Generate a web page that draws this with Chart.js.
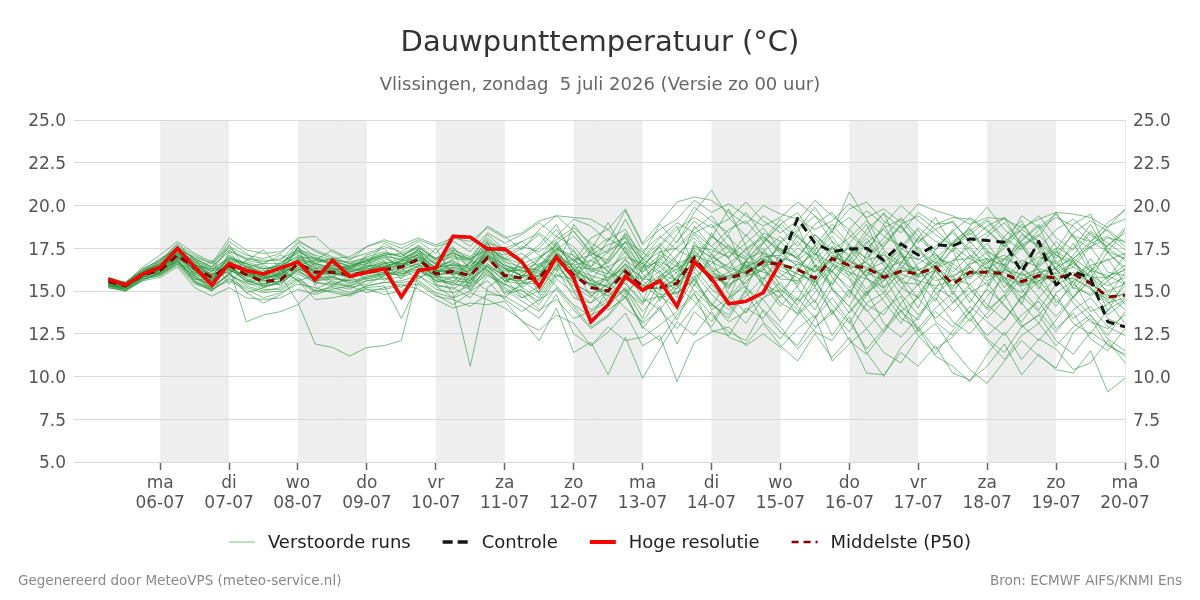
<!DOCTYPE html>
<html><head><meta charset="utf-8">
<script src="https://cdn.jsdelivr.net/npm/chart.js@4"></script>
<style>html,body{margin:0;padding:0;background:#fff}#wrap{width:1200px;height:600px}</style>
</head><body><div id="wrap"><canvas id="c" width="1200" height="600"></canvas></div>
<script>
// ---- DATA ----
const hours = [-18,-12,-6,0,6,12,18,24,30,36,42,48,54,60,66,72,78,84,90,96,102,108,114,120,126,132,138,144,150,156,162,168,174,180,186,192,198,204,210,216,222,228,234,240,246,252,258,264,270,276,282,288,294,300,306,312,318,324,330,336];
const tickHours = [0,24,48,72,96,120,144,168,192,216,240,264,288,312,336];
const dayNames = ['ma','di','wo','do','vr','za','zo','ma','di','wo','do','vr','za','zo','ma'];
const dayDates = ['06-07','07-07','08-07','09-07','10-07','11-07','12-07','13-07','14-07','15-07','16-07','17-07','18-07','19-07','20-07'];
const shadedDays = [0,48,96,144,192,240,288];
const yTicks = [5,7.5,10,12.5,15,17.5,20,22.5,25];

const hiRes = [15.7,15.35,16.0,16.4,17.5,16.4,15.35,16.6,16.2,16.0,
16.35,16.7,15.65,16.8,15.85,16.1,16.3,14.65,16.2,16.35,
18.2,18.15,17.45,17.45,16.7,15.25,17.0,15.75,13.2,14.2,
15.85,15.05,15.6,14.1,16.7,15.75,14.25,14.4,14.9,16.7];

const control = [15.7,15.35,16.0,16.4,17.5,16.4,15.35,16.6,16.2,16.0,
16.35,16.7,15.65,16.8,15.85,16.1,16.3,14.65,16.2,16.35,
18.2,18.15,17.45,17.45,16.7,15.25,17.0,15.75,13.2,14.2,
15.85,15.05,15.6,14.1,16.7,15.75,14.25,14.4,14.9,16.7,
19.25,17.8,17.3,17.45,17.5,16.8,17.75,17.1,17.7,17.65,
18.05,17.95,17.85,16.1,17.9,15.35,16.15,15.75,13.2,12.9];

const median = [15.55,15.3,15.95,16.2,17.1,16.35,15.8,16.5,15.95,15.55,
15.65,16.6,16.1,16.1,15.95,16.1,16.25,16.4,16.85,16.0,
16.15,15.9,16.95,15.9,15.75,15.75,16.95,15.95,15.2,15.0,
16.15,15.25,15.2,15.45,16.95,15.65,15.75,16.05,16.7,16.55,
16.25,15.75,16.9,16.5,16.35,15.8,16.15,16.0,16.4,15.4,
16.1,16.1,16.0,15.55,15.9,15.75,16.0,15.45,14.65,14.75];

const members = [
[15.4,15.2,15.9,16.5,17.3,16.1,15.6,16.8,16.0,15.4, 15.8,16.9,16.3,15.8,15.6,16.4,16.7,16.1,17.2,16.3, 16.8,15.9,17.6,16.4,15.2,15.9,17.8,16.3,14.7,15.4, 16.6,14.9,15.8,14.6,17.9,16.3,15.2,16.7,17.5,16.0, 15.4,16.8,17.9,16.1,14.9,15.6,17.2,15.3,16.7,14.8, 16.5,17.3,15.6,14.2,16.8,17.5,15.1,16.2,13.8,15.6],
[15.6,15.3,16.1,16.0,16.9,16.5,16.2,16.3,15.6,15.9, 15.3,16.4,15.8,16.5,16.2,15.7,15.9,16.6,16.4,15.6, 15.5,16.7,16.2,15.3,16.9,14.8,16.1,17.4,15.8,14.3, 15.9,16.8,14.4,15.9,16.2,18.4,16.9,15.1,17.3,18.2, 17.1,15.3,16.4,18.6,17.4,15.2,16.6,18.1,17.2,15.9, 14.3,16.1,17.8,16.6,15.1,17.2,18.3,16.4,15.7,17.1],
[15.3,15.1,15.7,15.9,16.6,15.9,15.2,16.0,15.3,15.0, 15.2,16.0,15.5,15.3,15.1,15.6,15.8,15.2,15.9,15.1, 14.9,15.3,16.3,14.8,15.1,14.2,15.7,14.9,13.6,14.1, 15.2,13.8,14.9,13.3,15.4,14.2,13.6,15.1,14.5,13.2, 14.6,13.4,15.2,14.1,12.8,13.9,14.7,12.6,13.8,12.9, 14.1,13.2,12.4,13.6,14.4,12.8,13.7,12.2,11.5,12.8],
[15.8,15.5,16.3,16.8,17.7,17.1,16.6,17.5,16.9,16.7, 16.9,17.4,17.1,16.8,16.4,16.9,17.2,17.0,17.6,16.8, 17.4,17.0,18.1,17.2,16.8,17.5,18.6,17.3,16.1,16.7, 17.9,16.2,17.1,16.4,18.8,17.6,16.9,18.3,17.1,16.5, 18.3,17.2,16.1,17.8,18.9,16.7,17.4,18.6,16.9,17.8, 18.7,17.1,16.3,17.9,18.8,16.6,17.5,18.9,17.2,16.4],
[15.2,15.0,15.6,16.1,16.9,15.6,15.0,15.8,14.9,15.2, 15.6,16.3,15.9,16.2,16.5,16.8,17.1,16.3,15.7,16.5, 15.9,15.4,16.6,15.8,14.6,15.3,16.4,15.5,14.8,13.9, 14.6,13.1,13.9,15.2,16.1,14.8,13.9,14.7,15.8,14.3, 13.7,15.6,14.2,13.1,14.8,15.9,14.1,13.3,15.2,14.6, 13.2,14.7,15.8,14.3,13.1,14.9,15.6,13.8,14.2,15.3],
[15.5,15.4,16.0,16.3,17.6,16.9,16.4,17.9,17.2,16.5, 16.1,17.6,16.4,15.5,15.2,15.4,15.9,16.8,17.3,16.9, 17.6,16.2,17.3,16.9,17.5,18.3,17.2,16.1,17.3,18.1, 17.4,15.6,16.8,17.9,19.1,18.2,17.4,16.3,17.8,18.9, 19.6,18.1,16.9,17.5,16.2,17.6,18.8,17.3,16.4,17.9, 18.6,17.4,16.5,18.3,17.6,16.2,17.1,18.4,17.5,16.8],
[15.4,15.3,15.8,16.4,17.0,16.6,15.9,16.4,13.2,13.6, 13.8,14.2,15.1,15.6,15.3,15.8,16.1,15.9,16.3,15.4, 15.1,15.8,15.0,14.6,15.5,16.2,15.3,14.2,13.5,15.1, 16.3,14.6,13.9,12.8,14.1,15.4,14.2,13.1,14.6,15.5, 14.1,12.9,13.7,15.1,13.9,12.6,14.3,15.4,13.2,12.4, 13.8,15.1,14.2,12.9,13.6,14.8,13.1,12.5,13.9,14.5],
[15.6,15.4,16.2,16.6,17.2,16.2,15.5,16.2,15.8,15.7, 15.9,14.3,11.9,11.7,11.2,11.7,11.8,12.1,16.1,15.8, 16.4,16.1,17.2,16.3,15.9,16.8,17.9,16.2,15.6,16.9, 18.2,16.5,15.3,16.1,17.4,16.2,15.1,16.8,17.9,16.6, 15.5,17.1,18.2,16.9,15.8,14.9,16.3,17.6,16.1,15.2, 16.7,17.8,16.4,15.3,16.6,17.9,16.8,15.4,14.7,16.1],
[15.3,15.2,15.8,16.2,17.4,16.4,15.7,16.9,16.4,16.1, 16.6,17.3,16.8,17.4,16.9,17.2,17.6,17.3,17.9,17.2, 18.3,17.6,18.8,18.2,17.4,18.6,19.4,18.5,17.2,16.8, 18.4,17.1,18.9,17.8,19.6,20.9,19.3,18.2,19.4,18.7, 17.6,18.9,19.6,18.3,17.4,18.7,19.2,17.9,18.6,19.1, 17.8,18.4,19.3,17.6,18.2,19.6,18.1,17.5,18.8,19.2],
[15.7,15.4,16.0,16.1,16.8,16.0,16.8,15.4,16.5,15.2, 16.2,15.6,15.9,16.4,15.8,16.2,16.6,15.7,16.9,16.2, 14.8,10.6,15.2,15.9,16.7,15.4,16.8,15.1,14.3,15.6, 16.9,15.3,16.2,14.8,15.9,13.9,14.6,15.8,16.4,15.1, 14.2,15.8,13.6,14.9,16.3,15.1,13.8,14.6,15.9,14.3, 15.2,13.9,14.7,16.1,15.3,14.1,15.6,16.4,14.8,13.9],
[15.5,15.2,16.1,16.7,17.8,16.8,15.9,17.1,16.5,15.8, 16.4,17.8,17.0,16.6,16.2,17.1,17.5,16.4,17.0,16.6, 17.1,16.4,17.8,16.6,15.8,16.9,18.2,17.6,16.4,17.3, 19.2,17.3,16.4,17.6,18.6,19.4,18.1,17.2,16.4,17.8, 18.6,19.9,18.4,20.8,19.2,17.4,16.6,18.1,19.3,17.6, 16.9,18.2,19.0,17.8,16.5,17.4,18.9,19.5,17.3,16.2],
[15.4,15.1,15.8,16.0,16.7,15.7,15.4,16.3,15.6,15.3, 15.5,16.1,15.7,15.9,15.4,15.9,16.0,16.2,16.6,15.5, 15.8,15.2,16.0,15.1,14.4,13.8,15.2,14.1,12.9,13.6, 14.9,12.8,14.1,11.9,13.8,12.9,14.6,15.3,13.8,12.6, 11.8,13.4,14.6,13.2,11.6,12.8,13.9,12.4,11.3,12.7, 13.8,12.2,11.4,12.9,13.6,12.1,11.3,12.6,11.9,11.2],
[15.6,15.3,16.0,16.5,17.3,16.7,16.1,16.8,16.3,16.2, 16.0,16.9,16.6,16.3,16.1,16.5,16.8,14.6,16.3,16.1, 16.6,16.3,17.1,16.0,15.6,14.9,16.5,16.6,15.2,15.7, 16.5,15.8,16.6,15.6,17.2,16.1,16.6,17.4,18.1,17.3, 16.4,15.2,17.6,16.4,15.1,16.2,17.3,15.9,17.1,16.4, 15.7,16.9,15.8,14.6,15.9,16.8,15.4,14.7,15.6,16.3],
[15.3,15.0,15.7,15.9,16.5,15.4,15.1,15.6,15.1,14.6, 14.9,15.4,15.2,14.9,14.7,15.2,15.3,13.4,15.5,14.8, 14.2,14.9,14.5,14.0,13.3,12.1,14.0,11.4,12.0,10.1, 12.3,9.9,11.6,13.2,12.4,13.8,12.3,11.9,13.1,11.8, 10.9,12.5,11.1,12.3,10.2,10.1,11.4,10.6,11.8,10.2, 9.8,10.6,11.9,10.1,11.3,10.4,10.2,11.5,9.1,9.9],
[15.7,15.5,16.4,17.1,17.9,17.2,16.7,17.6,17.1,16.9, 17.2,18.1,18.2,17.3,16.8,17.6,17.9,17.5,18.0,17.6, 17.9,17.3,18.4,17.8,18.3,19.0,18.2,19.2,18.8,17.9, 19.7,17.7,18.6,19.2,20.3,19.6,20.1,19.4,18.8,19.3, 20.2,19.4,18.6,19.8,20.2,19.1,18.4,19.6,18.9,19.3, 19.2,18.5,17.6,19.4,18.7,19.5,18.2,17.9,19.0,19.7],
[15.5,15.3,15.9,16.3,17.1,16.2,15.3,16.7,16.7,16.4, 15.7,16.5,16.2,16.0,15.9,16.3,16.4,16.8,16.7,16.2, 16.2,15.6,16.8,16.1,16.3,16.6,16.9,16.2,15.7,15.2, 16.2,15.1,15.7,16.3,16.9,15.6,16.1,16.5,16.1,15.8, 16.6,16.2,16.8,16.3,16.7,15.7,16.1,16.4,15.6,15.9, 16.4,15.6,16.2,16.0,15.4,16.1,16.6,15.9,15.3,15.8],
[15.4,15.3,16.0,16.3,16.9,16.4,15.6,16.2,15.9,15.6, 15.7,16.7,16.1,16.2,15.8,16.0,16.3,16.5,17.0,16.0, 16.0,16.0,17.0,15.7,15.6,15.9,17.1,15.9,15.4,14.9, 16.0,15.3,15.1,15.4,16.8,15.5,15.9,16.1,16.8,16.6, 16.3,15.8,17.0,16.7,16.4,15.9,16.2,16.0,16.5,15.3, 16.0,16.2,16.1,15.4,15.8,15.7,16.1,15.5,14.6,14.8],
[15.6,15.4,16.2,16.9,17.5,15.8,15.1,17.3,16.1,15.5, 15.9,17.6,15.3,16.8,16.7,16.9,15.6,16.4,17.5,15.3, 14.6,15.6,17.5,17.3,17.9,17.1,16.2,18.9,17.6,16.4, 15.4,14.3,17.3,16.6,15.3,17.2,18.3,15.9,16.2,17.9, 18.8,16.4,15.3,17.1,18.3,19.6,17.2,15.8,17.4,18.6, 17.1,15.9,18.2,19.1,17.4,16.3,17.8,16.1,17.7,18.4],
[15.2,15.1,15.6,15.8,16.4,15.2,14.7,15.2,14.6,14.5, 14.6,15.1,14.8,15.1,15.3,14.9,15.2,15.4,15.1,14.5, 14.0,14.3,14.2,14.4,13.2,12.7,13.6,13.1,11.8,12.6, 13.7,11.8,12.4,9.7,12.0,12.6,12.9,11.8,12.5,11.7, 12.8,13.6,10.9,11.9,12.8,11.4,10.8,12.3,13.1,11.6, 10.4,9.6,10.9,12.1,11.2,10.5,12.6,13.4,11.8,11.3],
[15.5,15.2,16.0,16.4,17.2,16.3,16.0,16.1,16.4,16.6, 17.1,16.6,15.6,15.8,16.4,16.6,17.8,17.2,16.5,17.5, 15.9,16.7,17.9,15.5,16.1,16.4,17.5,15.6,17.4,19.0, 17.2,16.3,17.7,18.8,16.4,18.1,19.8,17.6,15.4,14.9, 16.1,17.7,15.8,14.6,17.2,18.9,17.1,15.6,14.4,16.6, 17.9,16.8,15.2,16.5,17.8,16.3,14.6,15.7,17.3,16.9],
[15.4,15.2,15.9,16.2,17.0,16.6,15.7,16.6,16.2,16.0, 16.3,16.2,16.6,16.4,16.1,16.3,16.5,16.6,16.8,16.4, 16.5,16.5,17.3,16.7,16.4,15.8,16.4,16.9,15.5,14.7, 15.5,14.4,14.7,14.0,15.8,16.6,17.3,16.9,17.3,16.2, 15.8,14.3,16.5,15.7,14.2,13.6,15.1,16.3,14.9,13.8, 14.9,15.5,14.1,13.2,14.6,15.8,14.3,13.2,12.8,13.6],
[15.6,15.3,16.1,16.6,17.4,16.6,15.8,16.7,16.1,15.7, 16.0,16.9,16.5,16.2,16.0,16.1,16.4,16.7,17.1,16.1, 16.3,15.8,17.0,16.2,16.2,16.0,17.2,16.4,16.3,16.4, 17.0,16.6,16.0,15.6,17.6,17.4,17.0,17.8,18.7,17.4, 16.9,18.3,17.4,18.1,19.1,18.2,17.6,18.7,17.9,17.3, 18.8,19.9,18.6,17.7,18.3,17.1,16.6,17.8,18.2,17.4],
[15.3,15.1,15.8,16.0,16.7,15.9,15.3,15.9,15.5,15.1, 15.1,15.8,15.0,15.2,14.9,15.3,15.5,15.6,15.9,15.3, 15.2,14.6,15.9,15.4,14.8,13.9,14.5,13.4,13.8,14.4, 15.0,15.6,14.8,14.9,15.6,14.3,13.2,13.8,14.6,15.1, 14.4,15.2,13.8,12.6,14.3,14.9,13.4,12.8,14.0,14.9, 13.6,12.4,13.3,14.7,13.8,12.6,13.9,14.6,13.4,12.9],
[15.5,15.4,16.1,16.4,17.2,16.5,16.3,16.9,16.6,16.3, 16.5,17.0,16.9,16.7,16.5,16.7,17.0,16.9,17.4,16.7, 17.0,16.9,17.4,17.1,17.6,17.3,18.0,18.7,17.8,17.2, 18.3,16.8,17.6,18.6,19.3,18.7,19.2,20.2,19.1,18.4, 19.1,20.3,19.4,18.6,19.7,18.9,20.0,19.1,18.3,17.6, 18.3,19.1,17.9,18.6,19.4,18.1,17.4,18.5,17.8,17.1],
[15.6,15.2,15.9,16.2,16.8,15.5,15.2,16.0,16.8,17.4, 16.3,15.6,14.9,15.3,15.9,15.1,14.8,15.0,15.8,16.1, 17.4,15.0,16.5,14.9,15.3,16.6,15.8,16.6,17.6,15.5, 14.6,16.4,17.6,15.3,14.4,13.2,14.6,16.8,15.3,14.6, 16.3,17.4,15.1,14.1,15.9,17.3,15.6,14.0,16.2,17.4, 15.1,14.0,16.3,17.6,16.2,14.3,15.3,16.9,15.6,14.2],
[15.4,15.3,16.0,16.6,17.6,16.9,16.4,17.3,16.9,16.8, 16.8,17.9,17.4,17.0,16.6,17.0,17.3,17.0,17.7,16.9, 17.5,16.8,18.3,17.4,16.9,17.7,18.9,17.0,16.4,18.0, 18.6,16.9,18.1,19.0,18.4,17.6,18.6,19.1,17.9,19.2, 18.2,17.1,18.5,17.6,16.9,18.1,19.3,18.2,17.4,18.5, 19.3,18.6,17.6,18.9,17.8,16.9,18.4,19.1,18.5,17.6],
[15.7,15.5,16.2,16.5,17.0,16.0,15.6,16.5,15.7,15.4, 15.6,16.4,16.0,16.0,15.8,16.0,16.2,16.3,16.6,15.9, 16.1,15.7,16.4,15.6,15.4,15.7,16.6,15.4,14.9,15.1, 16.4,15.1,15.2,15.7,16.6,15.9,15.4,15.9,16.7,16.6, 16.0,15.5,16.6,16.1,15.7,15.2,16.0,15.6,15.3,15.6, 16.2,15.8,16.3,15.7,16.1,15.4,15.8,15.1,14.5,14.9],
[15.3,15.2,15.7,16.0,16.6,15.5,15.0,16.1,14.9,14.3, 14.8,15.6,14.5,14.6,14.8,15.1,15.1,15.3,15.4,14.7, 14.5,14.1,14.8,14.7,14.1,13.4,14.8,12.5,11.8,12.9, 12.1,12.3,13.0,13.8,14.9,12.7,12.4,14.0,13.4,14.8, 13.9,12.6,12.1,13.5,11.4,10.0,11.7,12.8,11.2,10.6, 9.7,11.3,12.6,11.0,12.2,11.6,10.4,10.8,12.1,10.8],
[15.5,15.3,16.1,16.8,17.4,17.0,16.6,18.1,17.4,17.2, 17.3,18.0,17.3,16.9,17.0,17.6,18.0,17.7,18.1,17.7, 18.1,17.9,18.7,18.1,18.4,19.1,19.4,19.3,19.2,18.6, 19.8,17.8,19.0,20.2,20.5,20.3,19.6,18.9,20.0,19.5, 19.2,18.6,19.1,20.1,19.3,19.8,19.0,20.1,19.7,19.4, 18.9,19.3,19.2,18.7,19.2,19.6,19.5,19.3,18.7,19.8],
[15.4,15.2,15.9,16.1,16.8,15.7,15.6,16.5,15.7,15.2, 15.5,16.2,15.6,15.7,15.6,15.8,16.0,16.1,16.4,15.9, 15.6,15.5,16.5,15.6,15.9,15.7,17.2,16.3,15.6,15.2, 16.0,15.7,16.4,15.6,17.1,16.7,16.2,16.7,16.5,16.6, 17.5,16.9,16.2,17.0,18.1,16.8,15.6,16.6,17.2,16.1, 17.1,16.5,15.6,16.8,16.4,17.3,16.7,15.8,15.8,16.5],
[15.5,15.3,15.9,16.3,17.2,16.8,16.3,16.4,15.9,16.1, 16.7,17.2,16.0,15.4,15.7,16.6,17.0,16.4,16.8,15.8, 15.3,16.3,17.7,16.8,15.8,16.3,17.4,18.2,17.1,16.1, 15.6,16.9,17.8,16.7,15.6,16.9,17.7,16.4,15.7,17.1, 17.9,16.6,15.4,16.8,17.9,16.5,15.2,14.6,16.3,17.5, 16.4,15.3,16.9,17.7,16.2,15.4,16.9,17.6,16.1,15.9],
[15.6,15.4,16.0,16.2,16.7,16.1,15.9,16.9,16.6,15.9, 16.0,16.5,16.8,16.6,16.3,16.5,16.4,16.0,16.5,16.3, 16.9,16.8,16.4,16.0,15.2,14.6,16.0,15.3,14.6,16.1, 17.3,16.0,15.0,15.8,17.7,16.9,14.8,13.7,15.6,16.9, 15.2,13.9,15.6,17.1,15.8,14.4,13.1,14.8,16.2,15.0, 13.7,15.2,16.6,15.1,13.9,15.4,16.8,15.2,13.6,14.4],
[15.4,15.2,15.8,16.3,17.0,16.3,15.6,16.7,16.0,15.6, 15.8,16.6,16.3,16.5,16.3,16.2,16.6,16.9,17.3,16.6, 16.2,15.4,17.1,16.5,16.2,16.1,16.7,15.0,13.9,14.6, 15.1,13.4,15.7,17.0,18.3,17.2,16.1,15.4,16.9,15.3, 14.5,16.4,17.6,15.8,14.7,16.1,17.9,16.3,15.1,16.8, 17.6,16.2,14.9,16.1,17.3,15.7,14.6,16.2,16.9,15.4],
[15.3,15.1,15.8,16.1,16.8,15.8,15.2,16.0,15.4,15.4, 15.6,16.2,15.5,15.4,15.3,15.6,15.7,15.8,16.2,15.7, 15.5,15.1,16.1,15.2,14.6,15.0,16.3,14.6,14.3,15.0, 14.0,13.2,14.6,14.9,15.7,14.2,13.4,15.0,13.2,12.2, 13.6,14.5,12.4,13.8,15.0,13.1,12.3,13.5,14.6,13.2, 12.5,13.7,14.8,13.0,12.1,13.3,14.6,13.6,12.4,13.8],
[15.7,15.4,16.2,16.7,17.6,16.6,15.9,17.0,16.4,16.3, 16.5,17.4,16.6,16.9,16.4,16.6,16.9,16.5,17.2,16.6, 17.3,16.6,18.0,16.9,16.3,16.9,17.7,16.8,17.1,17.7, 18.1,16.6,17.3,17.5,18.4,18.9,17.6,17.0,18.4,17.9, 16.8,17.6,18.9,17.7,16.9,17.8,18.9,17.4,16.6,17.8, 18.4,17.3,16.8,18.0,18.9,17.6,16.9,17.9,18.6,17.8],
[15.4,15.3,15.9,16.2,17.0,16.0,15.4,16.5,15.5,15.7, 16.1,16.8,15.9,16.3,15.9,16.0,16.1,15.9,16.5,15.8, 15.8,15.6,16.6,15.8,15.5,15.4,16.8,16.0,15.3,14.7, 15.8,15.4,14.6,15.3,16.4,15.1,14.4,15.6,16.3,14.9, 13.6,14.9,16.2,15.0,13.8,14.6,15.8,14.6,13.4,14.3, 15.4,14.2,13.3,14.6,15.6,14.5,13.4,14.1,12.9,12.4],
[15.5,15.2,16.0,16.4,17.3,16.4,15.8,16.6,16.1,15.8, 15.9,16.8,16.4,16.1,15.8,16.2,16.4,16.5,16.9,16.2, 16.4,15.9,17.1,16.3,16.4,16.2,17.3,16.3,15.9,15.6, 16.6,15.7,15.6,15.1,16.9,16.0,15.8,16.3,17.2,16.9, 16.7,16.1,17.3,16.8,15.9,16.3,16.7,16.2,16.8,15.8, 16.6,16.9,16.5,15.9,16.3,16.0,16.4,15.8,15.0,15.4],
[15.6,15.4,16.1,16.5,17.1,16.5,16.0,16.3,15.9,15.9, 16.2,16.8,16.0,16.7,15.9,16.2,16.4,16.8,17.1,16.2, 16.0,16.2,17.0,16.3,15.9,15.9,17.2,16.1,15.4,15.3, 16.2,15.2,15.9,15.3,16.9,15.8,15.9,16.4,16.9,16.4, 16.0,15.6,17.1,16.5,16.1,15.6,16.4,15.8,16.2,15.1, 15.9,16.4,15.8,15.3,15.6,15.9,15.7,15.2,14.3,14.6],
[15.2,15.0,15.7,16.0,16.6,15.6,15.1,15.7,15.2,14.9, 15.0,15.7,15.0,15.0,14.8,15.3,15.5,15.5,15.6,14.9, 14.6,15.0,15.6,14.5,13.8,14.5,15.1,13.9,12.8,13.5, 14.7,12.9,12.1,13.6,14.8,13.6,12.6,12.1,13.9,12.9, 11.6,12.8,13.9,12.1,11.3,12.6,13.8,12.9,11.6,12.3, 13.4,12.1,11.0,12.4,13.1,11.8,12.9,13.6,12.2,11.5],
[15.7,15.5,16.3,16.8,17.5,16.9,16.4,17.4,16.8,16.6, 16.6,17.5,16.9,16.6,16.3,16.8,17.2,17.1,17.5,16.9, 17.2,16.9,17.8,17.5,17.9,18.4,17.6,16.7,18.1,18.6, 17.5,16.1,16.9,18.3,19.9,19.1,18.4,19.6,18.2,17.2, 18.5,19.4,17.9,17.1,18.6,19.5,18.7,17.8,18.9,19.0, 17.9,18.8,19.3,18.4,17.5,18.6,19.2,18.3,17.6,18.7],
[15.5,15.3,16.0,16.5,17.4,16.7,16.1,17.7,16.3,16.0, 16.4,17.1,16.7,16.9,16.6,16.7,17.1,16.8,17.4,16.5, 16.7,16.3,17.5,16.9,16.6,17.0,17.6,16.5,16.8,17.4, 17.8,16.9,16.1,17.1,18.1,17.1,16.3,17.5,18.2,17.4, 17.0,18.3,17.2,16.4,17.8,18.6,17.5,16.8,17.6,18.4, 17.4,16.6,17.5,18.6,17.9,17.1,16.4,17.6,18.1,17.9],
[15.3,15.2,15.9,16.2,16.9,16.2,15.5,16.4,15.6,15.3, 15.4,16.3,15.8,15.8,15.5,15.7,16.0,16.0,16.3,15.6, 15.4,15.3,16.2,15.4,15.0,14.4,15.9,15.7,16.8,16.2, 15.0,14.2,15.9,16.5,15.0,14.1,15.6,16.6,15.4,14.1, 15.3,16.5,15.1,13.7,14.9,16.2,14.8,13.6,14.8,15.7, 14.6,13.4,14.5,15.8,14.6,13.5,14.7,15.6,14.4,13.1],
[15.6,15.5,16.2,16.4,17.0,16.3,15.7,16.7,16.2,15.8, 16.1,17.0,16.6,16.3,16.2,16.4,16.7,16.6,17.0,16.4, 16.5,16.2,17.2,16.5,16.1,16.3,17.4,17.1,16.3,16.0, 17.6,16.4,16.7,16.2,17.5,17.0,16.4,16.0,16.8,17.5, 16.9,16.1,16.7,17.6,16.6,15.9,17.0,16.9,16.3,16.8, 16.9,16.3,16.9,16.4,17.0,16.6,15.9,16.5,16.8,17.2],
[15.4,15.2,15.9,16.3,17.1,16.2,15.6,16.6,16.0,15.7, 16.0,16.6,16.1,16.0,16.1,16.4,16.6,16.7,17.2,16.3, 16.6,16.0,17.4,16.4,15.9,16.5,17.5,16.8,16.2,15.8, 16.8,16.1,16.9,16.0,17.3,16.4,15.7,16.2,17.0,17.1, 16.5,17.2,16.6,15.9,16.8,17.1,16.5,15.9,16.9,16.6, 15.8,16.7,17.1,16.3,15.6,16.4,16.9,16.2,15.9,16.2],
[15.5,15.4,16.0,16.4,17.2,16.4,15.7,16.5,16.1,15.8, 15.9,16.7,16.2,16.1,15.9,16.1,16.4,16.5,16.9,16.1, 16.2,15.9,16.9,16.0,15.8,15.6,16.8,15.8,15.4,15.8, 16.3,15.0,15.5,16.6,17.0,15.9,15.3,16.1,16.6,15.7, 15.6,16.5,16.1,15.2,16.2,16.7,15.5,15.4,16.4,15.7, 15.4,16.2,15.5,14.9,16.1,16.3,15.2,14.8,15.9,15.4],
[15.6,15.3,16.1,16.6,17.4,16.8,16.2,17.0,16.6,16.3, 16.4,17.3,16.9,16.5,16.4,16.8,17.1,17.2,17.6,16.8, 17.2,16.8,17.6,16.8,17.2,16.4,17.8,18.5,17.3,16.6, 17.9,17.3,18.2,17.4,16.9,18.2,17.5,16.8,17.8,18.9, 18.1,17.4,18.6,19.3,18.3,17.6,18.9,19.4,18.6,17.6, 18.5,19.2,18.1,17.4,18.6,19.3,18.8,17.9,17.3,18.6]
];

// ---- STYLE ----
const FONT = '"DejaVu Sans", sans-serif';
const GREEN = 'rgba(40,150,60,0.6)';
const pts = arr => arr.map((v, i) => ({ x: hours[i], y: v }));

const datasets = [
  { label: 'Hoge resolutie', data: pts(hiRes), borderColor: '#ff0000', borderWidth: 3.5, borderJoinStyle: 'miter' },
  { label: 'Controle', data: pts(control), borderColor: '#151515', borderWidth: 3, borderDash: [9, 6], borderJoinStyle: 'round' },
  { label: 'Middelste (P50)', data: pts(median), borderColor: '#8b0000', borderWidth: 3, borderDash: [8, 6] }
];
members.forEach(m => datasets.push({ label: 'Verstoorde runs', data: pts(m), borderColor: GREEN, borderWidth: 1 }));

const bandsPlugin = {
  id: 'bands',
  beforeDraw(chart) {
    const { ctx, chartArea: a, scales: { x } } = chart;
    ctx.save();
    ctx.fillStyle = '#eeeeee';
    shadedDays.forEach(h => {
      const x0 = x.getPixelForValue(h), x1 = x.getPixelForValue(h + 24);
      ctx.fillRect(x0, a.top, x1 - x0, a.bottom - a.top);
    });
    ctx.restore();
  }
};

const textPlugin = {
  id: 'texts',
  afterDraw(chart) {
    const ctx = chart.ctx;
    ctx.save();
    ctx.textBaseline = 'middle';
    ctx.textAlign = 'center';
    ctx.fillStyle = '#333';
    ctx.font = '29px ' + FONT;
    ctx.fillText('Dauwpunttemperatuur (°C)', 600, 43);
    ctx.fillStyle = '#666';
    ctx.font = '18px ' + FONT;
    ctx.fillText('Vlissingen, zondag  5 juli 2026 (Versie zo 00 uur)', 600, 85);

    // legend
    const items = [
      { t: 'Verstoorde runs', c: GREEN, w: 1, d: [] },
      { t: 'Controle', c: '#151515', w: 3.5, d: [10, 5] },
      { t: 'Hoge resolutie', c: '#ff0000', w: 4, d: [] },
      { t: 'Middelste (P50)', c: '#8b0000', w: 2.5, d: [7, 5] }
    ];
    ctx.font = '18px ' + FONT;
    const sw = 26, g1 = 13, g2 = 32;
    let total = 0;
    items.forEach((it, i) => { it.tw = ctx.measureText(it.t).width; total += sw + g1 + it.tw + (i < items.length - 1 ? g2 : 0); });
    let x = 600 - total / 2;
    const y = 542;
    items.forEach(it => {
      ctx.beginPath();
      ctx.strokeStyle = it.c; ctx.lineWidth = it.w; ctx.setLineDash(it.d);
      ctx.moveTo(x, y); ctx.lineTo(x + sw, y); ctx.stroke();
      ctx.setLineDash([]);
      ctx.fillStyle = '#222'; ctx.textAlign = 'left';
      ctx.fillText(it.t, x + sw + g1, y + 1);
      x += sw + g1 + it.tw + g2;
    });

    ctx.fillStyle = '#888';
    ctx.font = '13.5px ' + FONT;
    ctx.textAlign = 'left';
    ctx.fillText('Gegenereerd door MeteoVPS (meteo-service.nl)', 18, 581);
    ctx.textAlign = 'right';
    ctx.fillText('Bron: ECMWF AIFS/KNMI Ens', 1182, 581);

    const bad = members.filter(m => m.length !== hours.length).length;
    if (bad) { ctx.fillStyle = 'red'; ctx.textAlign = 'left'; ctx.fillText('LEN ERR ' + bad, 10, 10); }
    ctx.restore();
  }
};

const yTickOpts = {
  stepSize: 2.5, padding: 8, color: '#555', labelOffset: 2, font: { family: FONT, size: 17 },
  callback: v => Number(v).toFixed(1)
};

new Chart(document.getElementById('c'), {
  type: 'line',
  data: { datasets },
  plugins: [bandsPlugin, textPlugin],
  options: {
    responsive: false,
    animation: false,
    events: [],
    layout: { padding: { top: 120, bottom: 78, left: 0, right: 0 } },
    elements: { point: { radius: 0 }, line: { tension: 0, fill: false } },
    plugins: { legend: { display: false }, title: { display: false }, tooltip: { enabled: false } },
    scales: {
      x: {
        type: 'linear', min: -30, max: 336,
        afterBuildTicks: s => { s.ticks = tickHours.map(v => ({ value: v })); },
        afterFit: s => { s.height = 60; },
        ticks: {
          autoSkip: false, maxRotation: 0, minRotation: 0, padding: 3, color: '#555',
          font: { family: FONT, size: 17 },
          callback: v => { const i = tickHours.indexOf(v); return i < 0 ? '' : [dayNames[i], dayDates[i]]; }
        },
        grid: { drawOnChartArea: false, drawTicks: true, tickLength: 8, tickColor: '#666', tickWidth: 1.5 },
        border: { display: false }
      },
      y: {
        position: 'left', min: 5, max: 25,
        afterBuildTicks: s => { s.ticks = yTicks.map(v => ({ value: v })); },
        afterFit: s => { s.width = 74; },
        ticks: yTickOpts,
        grid: { color: '#d9d9d9', drawTicks: false },
        border: { display: false }
      },
      y2: {
        position: 'right', min: 5, max: 25,
        afterBuildTicks: s => { s.ticks = yTicks.map(v => ({ value: v })); },
        afterFit: s => { s.width = 75; },
        ticks: yTickOpts,
        grid: { drawOnChartArea: false, drawTicks: false },
        border: { display: true, color: '#e6e6e6' }
      }
    }
  }
});
</script>
</body></html>
